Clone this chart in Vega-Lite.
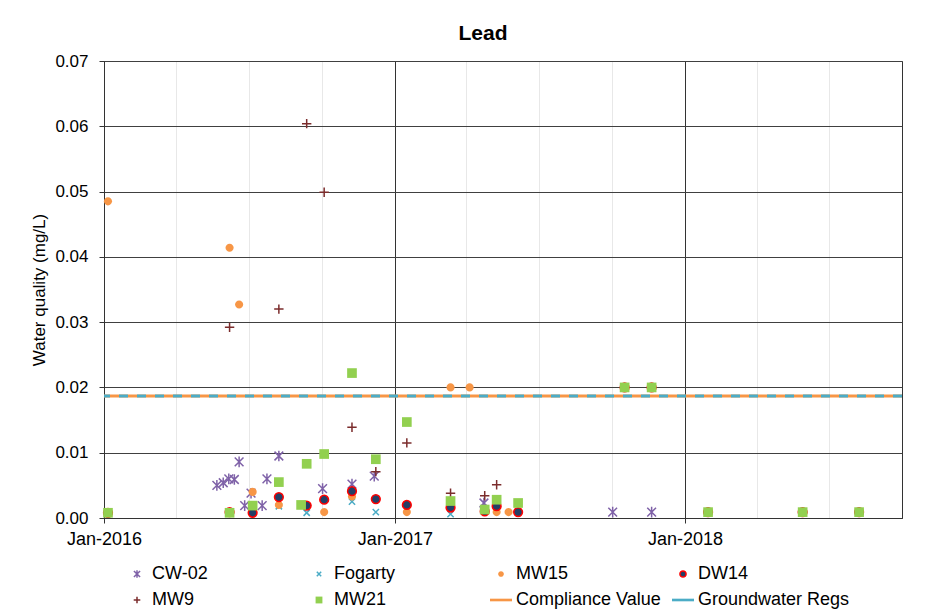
{
  "$schema": "https://vega.github.io/schema/vega-lite/v6.json",
  "width": 798,
  "height": 457,
  "autosize": {"type": "none"},
  "padding": {"left": 104, "top": 61, "right": 39, "bottom": 98},
  "background": "white",
  "title": {"text": "Lead", "fontSize": 21, "fontWeight": "bold", "font": "Liberation Sans", "color": "#000000", "anchor": "middle", "dx": -20, "dy": 31, "offset": 18, "baseline": "bottom"},
  "config": {"view": {"stroke": "#333333", "strokeWidth": 1}, "font": "Liberation Sans"},
  "encoding": {
    "y": {
      "field": "value", "type": "quantitative",
      "scale": {"domain": [0, 0.07], "nice": false, "zero": true},
      "axis": {"title": "Water quality (mg/L)", "values": [0, 0.01, 0.02, 0.03, 0.04, 0.05, 0.06, 0.07], "format": ".2f",
        "labelFontSize": 17, "titleFontSize": 17, "titleFontWeight": "normal", "labelColor": "#000000", "titleColor": "#000000",
        "domainColor": "#333333", "tickColor": "#333333", "tickSize": 5, "labelPadding": 11, "grid": true, "gridColor": "#404040", "titlePadding": 6}
    }
  },
  "layer": [
    {
      "data": {"values": [{"series": "Compliance Value", "value": 0.0187}]},
      "mark": {"type": "rule", "stroke": "#F79646", "strokeWidth": 3},
      "encoding": {}
    },
    {
      "data": {"values": [{"series": "Groundwater Regs", "value": 0.0187}]},
      "mark": {"type": "rule", "stroke": "#4BACC6", "strokeWidth": 3, "strokeDash": [9, 9]},
      "encoding": {}
    },
    {
      "data": {"values": [
        {"series": "CW-02", "date": "2016-05-22", "value": 0.0050},
        {"series": "CW-02", "date": "2016-05-30", "value": 0.0054},
        {"series": "CW-02", "date": "2016-06-06", "value": 0.0060},
        {"series": "CW-02", "date": "2016-06-13", "value": 0.0059},
        {"series": "CW-02", "date": "2016-06-19", "value": 0.0086},
        {"series": "CW-02", "date": "2016-06-26", "value": 0.0019},
        {"series": "CW-02", "date": "2016-07-04", "value": 0.0038},
        {"series": "CW-02", "date": "2016-07-18", "value": 0.0019},
        {"series": "CW-02", "date": "2016-07-24", "value": 0.0060},
        {"series": "CW-02", "date": "2016-08-08", "value": 0.0095},
        {"series": "CW-02", "date": "2016-10-02", "value": 0.0045},
        {"series": "CW-02", "date": "2016-11-08", "value": 0.0052},
        {"series": "CW-02", "date": "2016-12-06", "value": 0.0064},
        {"series": "CW-02", "date": "2017-04-23", "value": 0.0023},
        {"series": "CW-02", "date": "2017-10-02", "value": 0.0009},
        {"series": "CW-02", "date": "2017-11-20", "value": 0.0009},
        {"series": "Fogarty", "date": "2016-08-08", "value": 0.0018},
        {"series": "Fogarty", "date": "2016-09-12", "value": 0.0008},
        {"series": "Fogarty", "date": "2016-11-08", "value": 0.0025},
        {"series": "Fogarty", "date": "2016-12-08", "value": 0.0009},
        {"series": "Fogarty", "date": "2017-03-12", "value": 0.0006},
        {"series": "MW15", "date": "2016-01-06", "value": 0.0485},
        {"series": "MW15", "date": "2016-06-07", "value": 0.0414},
        {"series": "MW15", "date": "2016-06-19", "value": 0.0327},
        {"series": "MW15", "date": "2016-07-06", "value": 0.0040},
        {"series": "MW15", "date": "2016-08-08", "value": 0.0020},
        {"series": "MW15", "date": "2016-10-04", "value": 0.0009},
        {"series": "MW15", "date": "2016-11-08", "value": 0.0033},
        {"series": "MW15", "date": "2017-01-16", "value": 0.0009},
        {"series": "MW15", "date": "2017-03-12", "value": 0.0200},
        {"series": "MW15", "date": "2017-04-05", "value": 0.0200},
        {"series": "MW15", "date": "2017-05-09", "value": 0.0009},
        {"series": "MW15", "date": "2017-05-24", "value": 0.0009},
        {"series": "DW14", "date": "2016-01-06", "value": 0.0008},
        {"series": "DW14", "date": "2016-06-07", "value": 0.0009},
        {"series": "DW14", "date": "2016-07-06", "value": 0.0008},
        {"series": "DW14", "date": "2016-08-08", "value": 0.0032},
        {"series": "DW14", "date": "2016-09-12", "value": 0.0019},
        {"series": "DW14", "date": "2016-10-04", "value": 0.0028},
        {"series": "DW14", "date": "2016-11-08", "value": 0.0041},
        {"series": "DW14", "date": "2016-12-08", "value": 0.0029},
        {"series": "DW14", "date": "2017-01-16", "value": 0.0020},
        {"series": "DW14", "date": "2017-03-12", "value": 0.0016},
        {"series": "DW14", "date": "2017-04-24", "value": 0.0010},
        {"series": "DW14", "date": "2017-05-09", "value": 0.0018},
        {"series": "DW14", "date": "2017-06-05", "value": 0.0009},
        {"series": "DW14", "date": "2017-10-17", "value": 0.0200},
        {"series": "DW14", "date": "2017-11-20", "value": 0.0200},
        {"series": "DW14", "date": "2018-01-30", "value": 0.0009},
        {"series": "DW14", "date": "2018-05-29", "value": 0.0009},
        {"series": "DW14", "date": "2018-08-08", "value": 0.0009},
        {"series": "MW9", "date": "2016-06-07", "value": 0.0292},
        {"series": "MW9", "date": "2016-08-08", "value": 0.0320},
        {"series": "MW9", "date": "2016-09-12", "value": 0.0604},
        {"series": "MW9", "date": "2016-10-04", "value": 0.0499},
        {"series": "MW9", "date": "2016-11-08", "value": 0.0139},
        {"series": "MW9", "date": "2016-12-08", "value": 0.0071},
        {"series": "MW9", "date": "2017-01-16", "value": 0.0115},
        {"series": "MW9", "date": "2017-03-12", "value": 0.0038},
        {"series": "MW9", "date": "2017-04-24", "value": 0.0034},
        {"series": "MW9", "date": "2017-05-09", "value": 0.0051},
        {"series": "MW21", "date": "2016-01-06", "value": 0.0008},
        {"series": "MW21", "date": "2016-06-07", "value": 0.0008},
        {"series": "MW21", "date": "2016-07-06", "value": 0.0019},
        {"series": "MW21", "date": "2016-08-08", "value": 0.0055},
        {"series": "MW21", "date": "2016-09-05", "value": 0.0020},
        {"series": "MW21", "date": "2016-09-12", "value": 0.0083},
        {"series": "MW21", "date": "2016-10-04", "value": 0.0098},
        {"series": "MW21", "date": "2016-11-08", "value": 0.0222},
        {"series": "MW21", "date": "2016-12-08", "value": 0.0090},
        {"series": "MW21", "date": "2017-01-16", "value": 0.0147},
        {"series": "MW21", "date": "2017-03-12", "value": 0.0026},
        {"series": "MW21", "date": "2017-04-24", "value": 0.0013},
        {"series": "MW21", "date": "2017-05-09", "value": 0.0028},
        {"series": "MW21", "date": "2017-06-05", "value": 0.0023},
        {"series": "MW21", "date": "2017-10-17", "value": 0.0200},
        {"series": "MW21", "date": "2017-11-20", "value": 0.0200},
        {"series": "MW21", "date": "2018-01-30", "value": 0.0009},
        {"series": "MW21", "date": "2018-05-29", "value": 0.0009},
        {"series": "MW21", "date": "2018-08-08", "value": 0.0009}
      ]},
      "mark": {"type": "point", "opacity": 1, "strokeWidth": 1.5, "size": 977},
      "encoding": {
        "x": {
          "field": "date", "type": "temporal",
          "scale": {"type": "utc", "domain": [{"year": 2016, "month": 1, "date": 1, "utc": true}, {"year": 2018, "month": 10, "date": 1, "utc": true}]},
          "axis": {
            "title": null,
            "values": [
              {"year": 2016, "month": 1, "date": 1, "utc": true}, {"year": 2016, "month": 4, "date": 1, "utc": true},
              {"year": 2016, "month": 7, "date": 1, "utc": true}, {"year": 2016, "month": 10, "date": 1, "utc": true},
              {"year": 2017, "month": 1, "date": 1, "utc": true}, {"year": 2017, "month": 4, "date": 1, "utc": true},
              {"year": 2017, "month": 7, "date": 1, "utc": true}, {"year": 2017, "month": 10, "date": 1, "utc": true},
              {"year": 2018, "month": 1, "date": 1, "utc": true}, {"year": 2018, "month": 4, "date": 1, "utc": true},
              {"year": 2018, "month": 7, "date": 1, "utc": true}
            ],
            "labelExpr": "utcmonth(datum.value) === 0 ? utcFormat(datum.value, '%b-%Y') : ''",
            "labelFontSize": 18, "labelColor": "#000000", "labelFlush": false, "labelOverlap": false,
            "grid": true,
            "gridColor": {"condition": {"test": "utcmonth(datum.value) === 0", "value": "#333333"}, "value": "#e8e8e8"},
            "tickColor": {"condition": {"test": "utcmonth(datum.value) === 0", "value": "#333333"}, "value": "transparent"},
            "tickSize": 5, "labelPadding": 7, "domainColor": "#333333"
          }
        },
        "shape": {
          "field": "series", "type": "nominal",
          "scale": {
            "domain": ["CW-02", "Fogarty", "MW15", "DW14", "MW9", "MW21", "Compliance Value", "Groundwater Regs"],
            "range": [
              "M-0.28,-0.28L0.28,0.28M-0.28,0.28L0.28,-0.28M0,-0.34L0,0.34",
              "M-0.2,-0.2L0.2,0.2M-0.2,0.2L0.2,-0.2",
              "M-0.26,0A0.26,0.26,0,1,0,0.26,0A0.26,0.26,0,1,0,-0.26,0Z",
              "M-0.28,0A0.28,0.28,0,1,0,0.28,0A0.28,0.28,0,1,0,-0.28,0Z",
              "M-0.3,0L0.3,0M0,-0.3L0,0.3",
              "M-0.31,-0.31L0.31,-0.31L0.31,0.31L-0.31,0.31Z",
              "M-1,-0.12L1,-0.12L1,0.12L-1,0.12Z",
              "M-1,-0.12L1,-0.12L1,0.12L-1,0.12Z"
            ]
          },
          "legend": {"title": null, "orient": "none", "legendX": 21, "legendY": 501, "columns": 4, "direction": "horizontal", "gridAlign": "all", "columnPadding": 1, "rowPadding": 5, "symbolSize": 484, "labelFontSize": 18, "labelColor": "#000000", "labelOffset": 3, "padding": 0, "symbolStrokeWidth": 1.5, "labelLimit": 250, "symbolOpacity": 1}
        },
        "fill": {
          "field": "series", "type": "nominal",
          "scale": {
            "domain": ["CW-02", "Fogarty", "MW15", "DW14", "MW9", "MW21", "Compliance Value", "Groundwater Regs"],
            "range": ["transparent", "transparent", "#F79646", "#243F66", "transparent", "#92D050", "#F79646", "#4BACC6"]
          },
          "legend": {"title": null, "orient": "none", "legendX": 21, "legendY": 501, "columns": 4, "direction": "horizontal", "gridAlign": "all", "columnPadding": 1, "rowPadding": 5, "symbolSize": 484, "labelFontSize": 18, "labelColor": "#000000", "labelOffset": 3, "padding": 0, "symbolStrokeWidth": 1.5, "labelLimit": 250, "symbolOpacity": 1}
        },
        "stroke": {
          "field": "series", "type": "nominal",
          "scale": {
            "domain": ["CW-02", "Fogarty", "MW15", "DW14", "MW9", "MW21", "Compliance Value", "Groundwater Regs"],
            "range": ["#7F62A8", "#4BACC6", "transparent", "#FF0000", "#7B2C2C", "transparent", "transparent", "transparent"]
          },
          "legend": {"title": null, "orient": "none", "legendX": 21, "legendY": 501, "columns": 4, "direction": "horizontal", "gridAlign": "all", "columnPadding": 1, "rowPadding": 5, "symbolSize": 484, "labelFontSize": 18, "labelColor": "#000000", "labelOffset": 3, "padding": 0, "symbolStrokeWidth": 1.5, "labelLimit": 250, "symbolOpacity": 1}
        }
      }
    }
  ]
}
